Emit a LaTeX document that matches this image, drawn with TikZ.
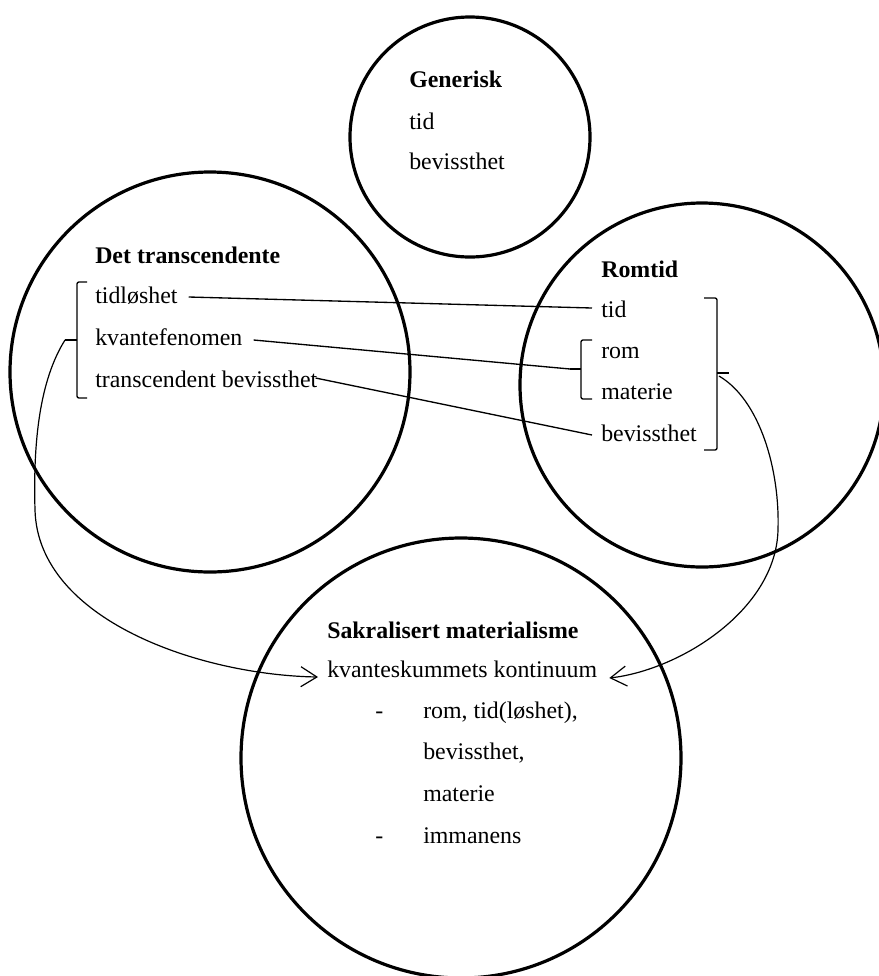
\documentclass[tikz,border=0pt]{standalone}
\usepackage{fontspec}
\setmainfont{Liberation Serif}
\usetikzlibrary{arrows.meta,calc}
\begin{document}
\begin{tikzpicture}[x=0.75pt,y=-0.75pt,
  ring/.style={circle,draw,line width=2.4pt,inner sep=0pt},
  txt/.style={anchor=base west,inner sep=0pt,font=\fontsize{17.9pt}{20pt}\selectfont},
  ttl/.style={anchor=base west,inner sep=0pt,font=\fontsize{17.9pt}{20pt}\selectfont\bfseries},
  link/.style={line width=1pt},
  brk/.style={line width=1pt,rounded corners=1.5pt},
  arr/.style={line width=0.9pt,-{Straight Barb[length=12pt,width=15pt,line width=0.9pt]}}]
\useasboundingbox (0,0) rectangle (879,976);
\clip (0,0) rectangle (879,976);

% circles
\node[ring,minimum size=180pt] (gen) at (470,137) {};
\node[ring,minimum size=300pt] (trans) at (210,372) {};
\node[ring,minimum size=273pt] (romc) at (702,385) {};
\node[ring,minimum size=330pt] (sak) at (461,758) {};

% Generisk
\node[ttl] (gtitle) at (409,87) {Generisk};
\node[txt] (gtid) at (409,129) {tid};
\node[txt] (gbev) at (409,169) {bevissthet};

% Det transcendente
\node[ttl] (ttitle) at (95,263) {Det transcendente};
\node[txt] (tidl) at (95,303) {tidløshet};
\node[txt] (kvf) at (95,345) {kvantefenomen};
\node[txt] (tbev) at (95,387) {transcendent bevissthet};

% Romtid
\node[ttl] (rtitle) at (601,277) {Romtid};
\node[txt] (rtid) at (601,317) {tid};
\node[txt] (rrom) at (601,358) {rom};
\node[txt] (rmat) at (601,399) {materie};
\node[txt] (rbev) at (601,441) {bevissthet};

% Sakralisert materialisme
\node[ttl] (stitle) at (327,638) {Sakralisert materialisme};
\node[txt] (kvs) at (327,677) {kvanteskummets kontinuum};
\node[txt] (dash1) at (375,718) {-};
\node[txt] (srom) at (423,718) {rom, tid(løshet),};
\node[txt] (sbev) at (423,759) {bevissthet,};
\node[txt] (smat) at (423,801) {materie};
\node[txt] (dash2) at (375,843) {-};
\node[txt] (simm) at (423,843) {immanens};

% brackets
\draw[brk] (87,282) -- (77,282) -- (77,398) -- (87,398);
\coordinate (lmid) at (65,340);
\draw[link] (77,340) -- (lmid);

\draw[brk] (592,340) -- (581,340) -- (581,399) -- (592,399);
\coordinate (rmid) at (570,369);
\draw[link] (581,369) -- (rmid);

\draw[brk] (704,298) -- (717,298) -- (717,450) -- (704,450);
\coordinate (rbig) at (729,373);
\draw[link] (717,373) -- (rbig);
\coordinate (rcurve) at (719,376);

% connectors
\draw[link] ($(tidl.base east)+(11,-6)$) -- ($(rtid.base west)+(-9,-9)$);
\draw[link] ($(kvf.base east)+(11,-5)$) -- (rmid);
\draw[link] ($(tbev.base east)+(-2,-9)$) -- ($(rbev.base west)+(-9,-6)$);

% curved arrows
\draw[arr] (lmid) .. controls (40,380) and (33,440) .. (35,510)
  .. controls (38,620) and (200,675) .. ($(kvs.base west)+(-9,0)$);
\draw[arr] (rcurve) .. controls (760,400) and (780,470) .. (778,530)
  .. controls (776,610) and (680,670) .. ($(kvs.base east)+(12,1)$);
\end{tikzpicture}
\end{document}
